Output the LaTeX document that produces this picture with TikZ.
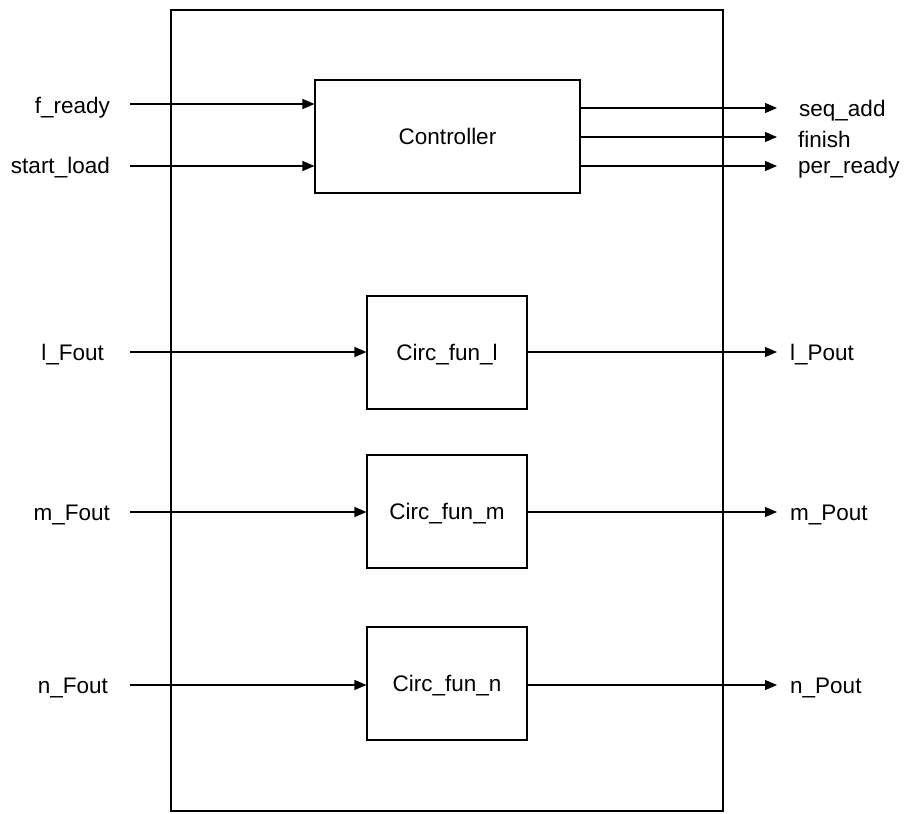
\documentclass[tikz,border=0pt]{standalone}
\usepackage{fontspec}
\setmainfont{Liberation Sans}
\usetikzlibrary{arrows.meta}
\begin{document}
\begin{tikzpicture}[x=1pt,y=-1pt,
  blk/.style={draw,line width=1.1pt,minimum width=160pt,minimum height=113pt,inner sep=0pt,text depth=0pt,font=\fontsize{22.5}{26}\selectfont},
  sig/.style={font=\fontsize{22.5}{26}\selectfont,inner sep=0pt},
  con/.style={line width=1.1pt,-{Triangle[length=12pt,width=10pt]}}]
\useasboundingbox (0,0) rectangle (906,814);
\draw[line width=1.1pt] (171,10) rectangle (723,811);
\node[blk,minimum width=265pt] (ctl) at (447.5,136.5) {Controller};
\node[blk] (cl) at (447,352.5) {Circ\_fun\_l};
\node[blk] (cm) at (447,511.5) {Circ\_fun\_m};
\node[blk] (cn) at (447,683.5) {Circ\_fun\_n};
% inputs
\node[sig,anchor=east] (fr) at (110,108) {f\_ready};
\node[sig,anchor=east] (sl) at (110,168) {start\_load};
\node[sig,anchor=east] (lf) at (104,355) {l\_Fout};
\node[sig,anchor=east] (mf) at (110,515) {m\_Fout};
\node[sig,anchor=east] (nf) at (108,688) {n\_Fout};
\coordinate (fr0) at (130,104);
\coordinate (sl0) at (130,166);
\coordinate (lf0) at (130,352);
\coordinate (mf0) at (130,512);
\coordinate (nf0) at (130,685);
\draw[con] (fr0) -- (fr0 -| ctl.west);
\draw[con] (sl0) -- (sl0 -| ctl.west);
\draw[con] (lf0) -- (lf0 -| cl.west);
\draw[con] (mf0) -- (mf0 -| cm.west);
\draw[con] (nf0) -- (nf0 -| cn.west);
% outputs
\coordinate (sa) at (777,108);
\coordinate (fi) at (777,137);
\coordinate (pr) at (777,166);
\coordinate (lp) at (777,352);
\coordinate (mp) at (777,512);
\coordinate (np) at (777,685);
\draw[con] (sa -| ctl.east) -- (sa);
\draw[con] (fi -| ctl.east) -- (fi);
\draw[con] (pr -| ctl.east) -- (pr);
\draw[con] (lp -| cl.east) -- (lp);
\draw[con] (mp -| cm.east) -- (mp);
\draw[con] (np -| cn.east) -- (np);
\node[sig,anchor=west] (sal) at (799,111) {seq\_add};
\node[sig,anchor=west] (fil) at (798,139) {finish};
\node[sig,anchor=west] (prl) at (798,168) {per\_ready};
\node[sig,anchor=west] (lpl) at (790,355) {l\_Pout};
\node[sig,anchor=west] (mpl) at (790,515) {m\_Pout};
\node[sig,anchor=west] (npl) at (790,688) {n\_Pout};
\end{tikzpicture}
\end{document}
